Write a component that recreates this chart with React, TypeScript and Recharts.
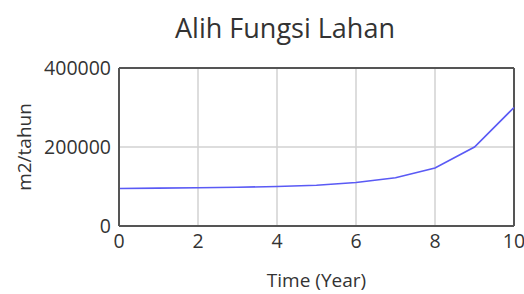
import { CartesianGrid, Line, LineChart, ReferenceLine, XAxis, YAxis } from 'recharts'

const years = [0, 1, 2, 3, 4, 5, 6, 7, 8, 9, 10]
const alihFungsi = [95000, 96000, 97000, 98000, 100000, 103000, 110000, 122000, 147000, 200000, 300000]
const xTicks = [0, 2, 4, 6, 8, 10]
const yTicks = [0, 200000, 400000]

const data = years.map((year, i) => ({ year, value: alihFungsi[i] }))

const font = '"Open Sans", sans-serif'
const frame = '#555555'

export default function App() {
  return (
    <div style={{ position: 'absolute', left: 0, top: 0, width: 524, height: 294, background: '#fff', fontFamily: font }}>
      <div
        style={{
          position: 'absolute',
          left: 0,
          width: 570,
          top: 10,
          textAlign: 'center',
          fontSize: 27,
          color: '#333',
          lineHeight: '36px',
        }}
      >
        Alih Fungsi Lahan
      </div>
      <LineChart width={524} height={294} data={data} margin={{ top: 68, right: 10, bottom: 0, left: 0 }}>
        <CartesianGrid stroke="#d2d2d2" strokeWidth={1.5} />
        <XAxis
          dataKey="year"
          type="number"
          domain={[0, 10]}
          ticks={xTicks}
          height={68}
          tickLine={false}
          axisLine={{ stroke: frame, strokeWidth: 2 }}
          tick={{ fill: '#333', fontSize: 19.5, fontFamily: font }}
          label={{ value: 'Time (Year)', position: 'insideBottom', offset: 7, fill: '#333', fontSize: 19, fontFamily: font }}
        />
        <YAxis
          type="number"
          domain={[0, 400000]}
          ticks={yTicks}
          width={119}
          tickLine={false}
          axisLine={{ stroke: frame, strokeWidth: 2 }}
          tick={{ fill: '#333', fontSize: 19.5, fontFamily: font }}
          label={{ value: 'm2/tahun', angle: -90, position: 'insideLeft', offset: 24, fill: '#333', fontSize: 19, fontFamily: font, style: { textAnchor: 'middle' } }}
        />
        <ReferenceLine y={400000} stroke={frame} strokeWidth={2} />
        <ReferenceLine x={10} stroke={frame} strokeWidth={2} />
        <Line
          type="linear"
          dataKey="value"
          stroke="#5a5af5"
          strokeWidth={1.6}
          dot={false}
          isAnimationActive={false}
        />
      </LineChart>
    </div>
  )
}
